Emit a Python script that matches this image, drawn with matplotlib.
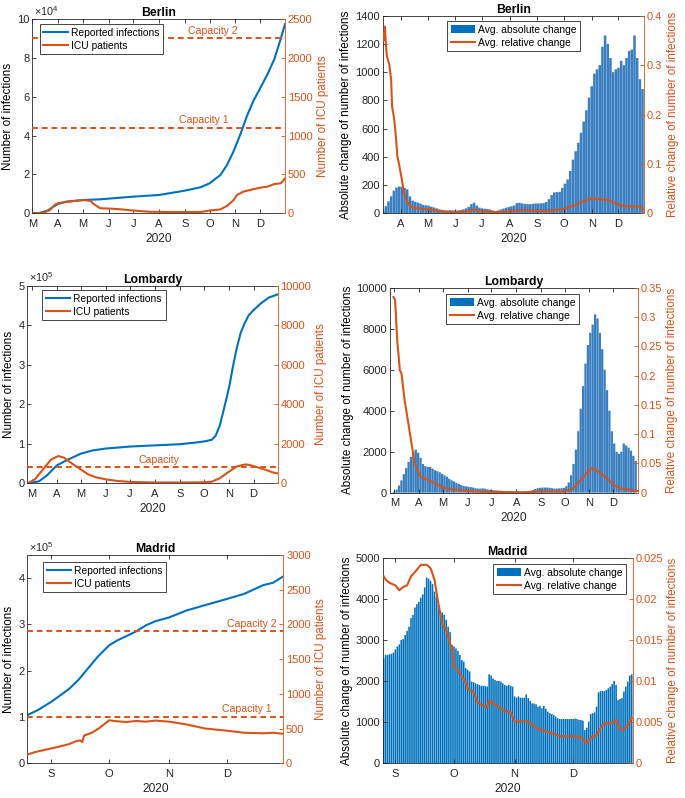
import matplotlib
matplotlib.use("Agg")
import matplotlib.pyplot as plt
import matplotlib.dates as mdates
import matplotlib.transforms as mtransforms
from matplotlib.ticker import FuncFormatter, MultipleLocator
from matplotlib.patches import Patch
from matplotlib.lines import Line2D
import pandas as pd

BLUE = "#0072BD"
ORANGE = "#D95319"
DARK = "#262626"

plt.rcParams["font.family"] = ["Liberation Sans", "DejaVu Sans"]
plt.rcParams["mathtext.fontset"] = "custom"
plt.rcParams["mathtext.rm"] = "Liberation Sans"
plt.rcParams["mathtext.it"] = "Liberation Sans"

# ---------------- Berlin ----------------
berlin_inf_dates = ["03-01", "03-10", "03-20", "03-25", "04-01", "04-11", "05-02", "05-22",
                    "07-01", "08-01", "09-01", "09-20", "10-01", "10-14", "10-22", "10-30",
                    "11-07", "11-15", "11-23", "12-01", "12-10", "12-18", "12-26", "12-31"]
berlin_inf = [0, 200, 1500, 3000, 4800, 6000, 6860, 7200, 8580, 9430, 11660, 13380, 15440,
              19700, 24900, 32000, 40500, 50000, 58000, 64300, 71700, 79200, 90000, 97400]
berlin_icu_dates = ["03-01", "03-14", "03-22", "03-28", "04-01", "04-11", "04-24", "05-02",
                    "05-10", "05-14", "05-22", "06-03", "06-15", "07-01", "07-21", "08-10",
                    "08-30", "09-20", "10-01", "10-14", "10-22", "10-30", "11-03", "11-11",
                    "11-23", "12-01", "12-10", "12-18", "12-26", "12-31"]
berlin_icu = [0, 5, 40, 107, 130, 146, 163, 170, 160, 120, 65, 60, 52, 35, 20, 17, 17, 17,
              35, 50, 95, 170, 235, 280, 310, 330, 343, 377, 386, 450]
berlin_capacity = [1100, 2250]
berlin_bar_start = "2020-03-12"   # one bar every 3 days
berlin_abs = [20, 50, 85, 120, 160, 182, 190,
              188, 180, 170, 120, 90, 82, 75, 68, 60, 57,
              54, 47, 42, 35, 28, 24, 21, 20, 22, 21,
              20, 21, 23, 28, 35, 45, 65, 75, 55, 40,
              35, 32, 30, 27, 20, 15, 20, 27, 33, 40, 45,
              50, 55, 72, 75, 70, 66, 65, 65, 67, 70,
              70, 70, 72, 80, 100, 130, 148, 150, 152, 180,
              210, 240, 300, 380, 440, 500, 570, 650, 730, 820,
              900, 990, 1020, 1050, 1180, 1260, 1200, 1100, 1000, 1020,
              1030, 1080, 1050, 1100, 1150, 1160, 1260, 1100, 950, 880]
berlin_rel_dates = ["03-12", "03-13", "03-14", "03-15", "03-16", "03-19", "03-21", "03-22",
                    "03-24", "03-26", "03-28", "03-30", "04-02", "04-04", "04-07", "04-11",
                    "04-15", "04-22", "05-01", "05-10", "05-20", "06-01", "06-15", "06-22",
                    "06-28", "07-10", "07-20", "08-01", "08-15", "09-01", "09-15", "10-01",
                    "10-15", "10-25", "11-01", "11-10", "11-20", "11-28", "12-05", "12-15",
                    "12-25", "12-30"]
berlin_rel = [0.365, 0.35, 0.378, 0.345, 0.32, 0.30, 0.27, 0.216, 0.196, 0.162, 0.115, 0.098,
              0.068, 0.044, 0.027, 0.015, 0.011, 0.010, 0.008, 0.006, 0.003, 0.002, 0.004,
              0.008, 0.004, 0.003, 0.002, 0.004, 0.006, 0.005, 0.005, 0.009, 0.018, 0.026,
              0.030, 0.028, 0.027, 0.020, 0.015, 0.014, 0.013, 0.007]

# ---------------- Lombardy ----------------
lomb_inf_dates = ["02-25", "03-10", "03-20", "04-01", "04-15", "05-01", "05-15", "06-01",
                  "07-01", "08-01", "09-01", "09-20", "10-01", "10-10", "10-15", "10-20",
                  "10-25", "11-01", "11-05", "11-10", "11-15", "11-20", "11-25", "12-01",
                  "12-10", "12-20", "12-31"]
lomb_inf = [0, 5000, 20000, 45000, 60000, 75000, 83000, 88000, 93000, 96000, 99000, 103000,
            106000, 110000, 120000, 145000, 185000, 245000, 290000, 340000, 380000, 405000,
            425000, 438000, 455000, 470000, 478000]
lomb_icu_dates = ["02-25", "03-05", "03-15", "03-25", "04-03", "04-10", "04-20", "05-01",
                  "05-10", "05-20", "06-01", "06-15", "07-01", "08-01", "09-01", "10-01",
                  "10-10", "10-20", "11-01", "11-10", "11-20", "11-25", "12-01", "12-15",
                  "12-25", "12-31"]
lomb_icu = [0, 200, 700, 1200, 1380, 1300, 1000, 700, 450, 300, 200, 120, 70, 40, 40, 50,
            80, 250, 600, 850, 950, 940, 870, 700, 550, 500]
lomb_capacity = [810]
lomb_bar_start = "2020-03-01"     # one bar every 3 days
lomb_abs = [50, 150, 350, 600, 900, 1200, 1500, 1750, 2000, 2100, 1950,
            1700, 1400, 1300, 1250, 1250, 1180, 1100, 1050, 1000, 920,
            850, 780, 680, 600, 550, 480, 430, 370, 330, 310,
            290, 270, 250, 220, 200, 200, 210, 190, 160, 140,
            130, 120, 110, 100, 95, 85, 80, 75, 70, 65,
            60, 60, 58, 60, 65, 75, 95, 130, 180, 220, 240,
            250, 250, 250, 240, 220, 200, 200, 210, 220, 240,
            320, 500, 850, 1400, 2100, 3000, 4100, 5200, 6300, 7200,
            7800, 8200, 8700, 8500, 7800, 7000, 6000, 5000, 4000, 3000,
            2400, 2000, 1900, 2000, 2400, 2300, 2200, 2050, 1800, 1550]
lomb_rel_dates = ["02-29", "03-02", "03-03", "03-04", "03-05", "03-07", "03-08", "03-10",
                  "03-12", "03-14", "03-16", "03-18", "03-20", "03-22", "03-24", "03-26",
                  "03-30", "04-03", "04-12", "04-20", "04-29", "05-11", "06-01", "06-22",
                  "07-15", "08-10", "09-01", "10-01", "10-10", "10-20", "10-30", "11-03",
                  "11-10", "11-20", "11-30", "12-08", "12-20", "12-31"]
lomb_rel = [0.334, 0.329, 0.306, 0.278, 0.255, 0.226, 0.209, 0.204, 0.181, 0.158, 0.141,
            0.124, 0.107, 0.090, 0.073, 0.053, 0.039, 0.027, 0.022, 0.017, 0.010, 0.0057,
            0.003, 0.0015, 0.001, 0.0005, 0.002, 0.002, 0.006, 0.020, 0.035, 0.042, 0.038,
            0.028, 0.015, 0.008, 0.005, 0.003]

# ---------------- Madrid ----------------
madrid_inf_dates = ["08-20", "08-25", "09-01", "09-05", "09-10", "09-15", "09-20", "09-25",
                    "10-01", "10-05", "10-10", "10-15", "10-20", "10-25", "11-01", "11-10",
                    "11-20", "12-01", "12-10", "12-20", "12-25", "12-30"]
madrid_inf = [105000, 115000, 133000, 145000, 160000, 180000, 205000, 230000, 255000,
              265000, 275000, 285000, 298000, 307000, 315000, 330000, 342000, 355000,
              366000, 385000, 390000, 403000]
madrid_icu_dates = ["08-20", "08-24", "08-28", "09-01", "09-05", "09-10", "09-14", "09-16",
                    "09-17", "09-18", "09-22", "09-26", "10-01", "10-05", "10-10", "10-15",
                    "10-20", "10-25", "11-01", "11-10", "11-20", "12-01", "12-10", "12-20",
                    "12-25", "12-30"]
madrid_icu = [130, 165, 190, 215, 240, 275, 320, 330, 305, 400, 440, 510, 620, 605, 595,
              610, 600, 615, 600, 560, 500, 470, 440, 432, 440, 425]
madrid_capacity = [670, 1900]
madrid_bar_start = "2020-08-26"   # one bar per day
madrid_abs = [2560, 2640, 2640, 2660, 2670, 2700, 2780, 2850, 2900, 3010,
              3030, 3130, 3230, 3330, 3540, 3620, 3800, 3880, 3940, 4040,
              4120, 4290, 4530, 4500, 4450, 4370, 4190, 4070, 3860, 3720,
              3680, 3620, 3500, 3330, 3200, 2890, 2850, 2800, 2740, 2640,
              2520, 2480, 2320, 2280, 2240, 1990, 1980, 1950, 1930, 1910,
              1890, 1890, 1880, 1870, 2170, 2140, 2070, 2030, 2010, 2010,
              1990, 1950, 1910, 1890, 1910, 1890, 1870, 1630, 1600, 1630,
              1600, 1600, 1600, 1680, 1590, 1520, 1460, 1460, 1440, 1380,
              1400, 1340, 1400, 1330, 1260, 1220, 1200, 1180, 1140, 1100,
              1080, 1080, 1080, 1080, 1080, 1080, 1080, 1080, 1090, 1080,
              1060, 1060, 1040, 810, 870, 1020, 1200, 1220, 1240, 1380,
              1730, 1760, 1760, 1760, 1790, 1830, 1870, 1930, 2010, 1910,
              1540, 1570, 1590, 1750, 1870, 1990, 2140, 2170]
madrid_rel_dates = ["08-26", "08-27", "08-29", "09-01", "09-03", "09-05", "09-07", "09-09",
                    "09-12", "09-14", "09-17", "09-19", "09-21", "09-23", "09-25", "09-27",
                    "09-30", "10-01", "10-03", "10-05", "10-07", "10-08", "10-11", "10-13",
                    "10-14", "10-17", "10-18", "10-19", "10-21", "10-24", "10-26", "10-30",
                    "11-01", "11-05", "11-07", "11-10", "11-12", "11-15", "11-17", "11-21",
                    "11-24", "11-28", "12-01", "12-05", "12-08", "12-09", "12-11", "12-13",
                    "12-16", "12-18", "12-21", "12-23", "12-25", "12-27", "12-29", "12-31"]
madrid_rel = [0.0228, 0.0224, 0.0220, 0.0217, 0.0211, 0.0215, 0.0217, 0.0228, 0.0236,
              0.0242, 0.0242, 0.0238, 0.0224, 0.0195, 0.0169, 0.0163, 0.0138, 0.0118,
              0.0114, 0.0106, 0.0098, 0.0091, 0.0087, 0.0075, 0.0073, 0.0069, 0.0069,
              0.0077, 0.0073, 0.0069, 0.0065, 0.0062, 0.0051, 0.0051, 0.0052, 0.0047,
              0.0043, 0.0041, 0.0039, 0.0036, 0.0033, 0.0033, 0.0033, 0.0032, 0.0024,
              0.0028, 0.0033, 0.0034, 0.0047, 0.0049, 0.0049, 0.0053, 0.0041, 0.0041,
              0.0047, 0.0055]


def d(days):
    return pd.to_datetime(["2020-" + s for s in days])


W, H = 685, 798
fig = plt.figure(figsize=(W / 100, H / 100), dpi=100)


def make_axes(box):
    l, t, r, b = box
    ax = fig.add_axes([l / W, 1 - b / H, (r - l) / W, (b - t) / H])
    ax2 = ax.twinx()
    return ax, ax2


def style(ax, ax2, xlim, title):
    ax.set_xlim(pd.Timestamp(xlim[0]), pd.Timestamp(xlim[1]))
    ax.xaxis.set_major_locator(mdates.MonthLocator())
    ax.xaxis.set_major_formatter(FuncFormatter(lambda v, p: mdates.num2date(v).strftime("%b")[0]))
    ax.set_xlabel("2020", fontsize=8.6, color=DARK, labelpad=3)
    ax.tick_params(axis="x", direction="in", length=3, width=0.6, top=True,
                   labelsize=8, colors=DARK, pad=4)
    ax.tick_params(axis="y", direction="in", length=3, width=0.6, right=False,
                   labelsize=8, colors=DARK, pad=2)
    ax2.tick_params(axis="y", direction="in", length=3, width=0.6,
                    labelsize=8, colors=ORANGE, pad=2)
    for s in ["left", "top", "bottom"]:
        ax.spines[s].set_color(DARK)
        ax.spines[s].set_linewidth(0.6)
        ax2.spines[s].set_visible(False)
    ax.spines["right"].set_visible(False)
    ax2.spines["right"].set_color(ORANGE)
    ax2.spines["right"].set_linewidth(0.6)
    ax.set_title(title, fontweight="bold", fontsize=8.8, pad=2)


def add_legend(ax2, handles, labels, xy):
    leg = ax2.legend(handles, labels, loc="upper left", bbox_to_anchor=xy,
                     borderaxespad=0, fontsize=7.4, handlelength=2.4, handletextpad=0.3,
                     borderpad=0.35, labelspacing=0.3, fancybox=False, framealpha=1)
    leg.get_frame().set_edgecolor(DARK)
    leg.get_frame().set_linewidth(0.6)


def left_panel(box, title, xlim, inf_dates, inf, icu_dates, icu, ymax, ystep, expo,
               rmax, rstep, caps, legend_xy):
    ax, ax2 = make_axes(box)
    l1, = ax.plot(d(inf_dates), inf, color=BLUE, lw=1.5)
    l2, = ax2.plot(d(icu_dates), icu, color=ORANGE, lw=1.5)
    trans = mtransforms.blended_transform_factory(ax2.transAxes, ax2.transData)
    for val, label, xf in caps:
        ax2.axhline(val, color=ORANGE, lw=1.4, ls=(0, (3, 2)))
        ax2.annotate(label, (xf, val), xycoords=trans, xytext=(0, 2),
                     textcoords="offset points", ha="center", va="bottom",
                     color=ORANGE, fontsize=7.6)
    ax.set_ylim(0, ymax)
    ax.yaxis.set_major_locator(MultipleLocator(ystep))
    ax.yaxis.set_major_formatter(FuncFormatter(lambda v, p: f"{v / 10 ** expo:g}"))
    ax.annotate(r"$\times10^{%d}$" % expo, (0, 1), xycoords="axes fraction",
                xytext=(1, 1), textcoords="offset points", ha="left", va="bottom",
                fontsize=7.8, color=DARK)
    ax2.set_ylim(0, rmax)
    ax2.yaxis.set_major_locator(MultipleLocator(rstep))
    ax.set_ylabel("Number of infections", fontsize=8.4, color="black", labelpad=2)
    ax2.set_ylabel("Number of ICU patients", fontsize=8.4, color=ORANGE, labelpad=3)
    style(ax, ax2, xlim, title)
    add_legend(ax2, [l1, l2], ["Reported infections", "ICU patients"], legend_xy)


def right_panel(box, title, xlim, bar_start, step, bars, rel_dates, rel, ymax, ystep,
                rmax, rstep, legend_xy, bar_frac, bar_color):
    ax, ax2 = make_axes(box)
    x = pd.date_range(bar_start, periods=len(bars), freq=f"{step}D")
    ax.bar(x, bars, width=step * bar_frac, color=bar_color, edgecolor="none",
           linewidth=0, snap=False)
    ax2.plot(d(rel_dates), rel, color=ORANGE, lw=1.5)
    ax.set_ylim(0, ymax)
    ax.yaxis.set_major_locator(MultipleLocator(ystep))
    ax2.set_ylim(0, rmax)
    ax2.yaxis.set_major_locator(MultipleLocator(rstep))
    ax2.yaxis.set_major_formatter(FuncFormatter(lambda v, p: f"{v:g}"))
    ax.set_ylabel("Absolute change of number of infections", fontsize=8.4,
                  color="black", labelpad=2)
    ax2.set_ylabel("Relative change of number of infections", fontsize=8.4,
                   color=ORANGE, labelpad=3)
    style(ax, ax2, xlim, title)
    handles = [Patch(facecolor=BLUE, edgecolor="none"), Line2D([], [], color=ORANGE, lw=1.5)]
    add_legend(ax2, handles, ["Avg. absolute change", "Avg. relative change"], legend_xy)


left_panel((32.3, 19, 285, 213.3), "Berlin", ("2020-03-01", "2020-12-31"),
           berlin_inf_dates, berlin_inf, berlin_icu_dates, berlin_icu,
           100000, 20000, 4, 2500, 500,
           [(berlin_capacity[0], "Capacity 1", 0.68), (berlin_capacity[1], "Capacity 2", 0.716)],
           (0.03, 0.974))
right_panel((382.7, 15.7, 644.3, 213.3), "Berlin", ("2020-03-11 12:00", "2020-12-30"),
            berlin_bar_start, 3, berlin_abs, berlin_rel_dates, berlin_rel,
            1400, 200, 0.4, 0.1, (0.246, 0.973), 0.95, "#3a7fc0")

left_panel((27.3, 285.7, 277.7, 483.3), "Lombardy", ("2020-02-24 14:00", "2020-12-31"),
           lomb_inf_dates, lomb_inf, lomb_icu_dates, lomb_icu,
           500000, 100000, 5, 10000, 2000,
           [(lomb_capacity[0], "Capacity", 0.527)], (0.059, 0.978))
right_panel((390, 287.7, 637.7, 492.7), "Lombardy", ("2020-02-24 16:00", "2020-12-31 12:00"),
            lomb_bar_start, 3, lomb_abs, lomb_rel_dates, lomb_rel,
            10000, 2000, 0.35, 0.05, (0.226, 0.969), 0.95, "#3a7fc0")

left_panel((27.3, 555, 283.3, 763.3), "Madrid", ("2020-08-19 12:00", "2020-12-30 08:00"),
           madrid_inf_dates, madrid_inf, madrid_icu_dates, madrid_icu,
           450000, 100000, 5, 3000, 500,
           [(madrid_capacity[0], "Capacity 1", 0.857), (madrid_capacity[1], "Capacity 2", 0.876)],
           (0.061, 0.966))
right_panel((382.7, 558.3, 632.7, 763.3), "Madrid", ("2020-08-25 12:00", "2020-12-31 12:00"),
            madrid_bar_start, 1, madrid_abs, madrid_rel_dates, madrid_rel,
            5000, 1000, 0.025, 0.005, (0.441, 0.972), 0.82, BLUE)

fig.savefig("out.png", dpi=100)
